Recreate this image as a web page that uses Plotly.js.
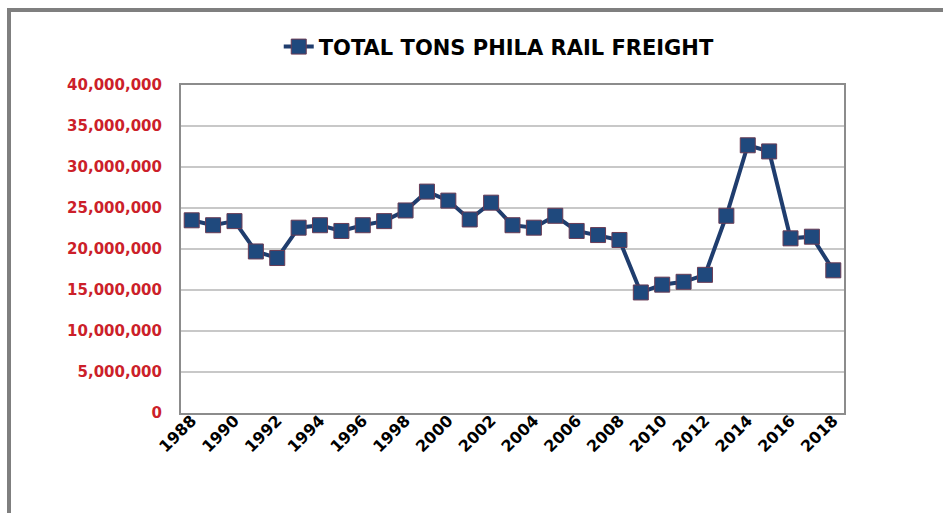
<!DOCTYPE html>
<html>
<head>
<meta charset="utf-8">
<script src="https://cdn.plot.ly/plotly-3.0.1.min.js"></script>
<style>
  html, body { margin: 0; padding: 0; background: #ffffff; }
  #frame { position: absolute; left: 7px; top: 8px; width: 960px; height: 520px;
           border-top: 4px solid #7f7f7f; border-left: 4px solid #7f7f7f; box-sizing: border-box; }
  #chart { position: absolute; left: 0; top: 0; width: 943px; height: 513px; }
</style>
</head>
<body>
<div id="frame"></div>
<div id="chart"></div>
<script>
const seriesName = "TOTAL TONS PHILA RAIL FREIGHT";
const years = [1988, 1989, 1990, 1991, 1992, 1993, 1994, 1995, 1996, 1997,
               1998, 1999, 2000, 2001, 2002, 2003, 2004, 2005, 2006, 2007,
               2008, 2009, 2010, 2011, 2012, 2013, 2014, 2015, 2016, 2017, 2018];
const tons = [23500000, 22900000, 23400000, 19700000, 18900000, 22600000, 22900000, 22200000, 22900000, 23400000,
              24700000, 27000000, 25900000, 23600000, 25650000, 22900000, 22600000, 24050000, 22200000, 21700000,
              21100000, 14700000, 15650000, 16000000, 16850000, 24050000, 32650000, 31900000, 21300000, 21500000, 17400000];
const xTickYears = [1988, 1990, 1992, 1994, 1996, 1998, 2000, 2002, 2004, 2006, 2008, 2010, 2012, 2014, 2016, 2018];

const trace = {
  x: years, y: tons, name: seriesName, type: 'scatter', mode: 'lines+markers',
  line: { color: '#1f3d6e', width: 4 },
  marker: { symbol: 'square', size: 15, color: '#1f497d', line: { color: '#6a3c55', width: 1 } },
  showlegend: true
};

const layout = {
  width: 943, height: 513,
  paper_bgcolor: 'rgba(0,0,0,0)', plot_bgcolor: '#ffffff',
  margin: { l: 181, r: 99, t: 85, b: 100 },
  font: { family: 'DejaVu Sans, Arial, sans-serif' },
  showlegend: true,
  legend: {
    orientation: 'h', x: 0.48, xanchor: 'center', y: 1.116, yanchor: 'middle',
    font: { family: 'DejaVu Sans, Arial, sans-serif', size: 21, color: '#000000', weight: 'bold' },
    bgcolor: 'rgba(0,0,0,0)'
  },
  xaxis: {
    range: [1987.5, 2018.5], tickmode: 'array', tickvals: xTickYears,
    ticktext: xTickYears.map(String), tickangle: -45,
    tickfont: { family: 'DejaVu Sans, Arial, sans-serif', size: 16, color: '#000000', weight: 'bold' },
    showgrid: false, zeroline: false, ticks: '',
    ticklabelstandoff: -10,
    showline: true, mirror: true, linecolor: '#8c8c8c', linewidth: 2
  },
  yaxis: {
    range: [0, 40000000], dtick: 5000000, tick0: 0, tickformat: ',d',
    tickfont: { family: 'DejaVu Sans, Arial, sans-serif', size: 15, color: '#cc1f2a', weight: 'bold' },
    showgrid: true, gridcolor: '#c8c8c8', gridwidth: 1.5, zeroline: false, ticks: '',
    ticklabelstandoff: 14,
    showline: true, mirror: true, linecolor: '#8c8c8c', linewidth: 2
  }
};

Plotly.newPlot('chart', [trace], layout, { displayModeBar: false, staticPlot: true });
</script>
</body>
</html>
